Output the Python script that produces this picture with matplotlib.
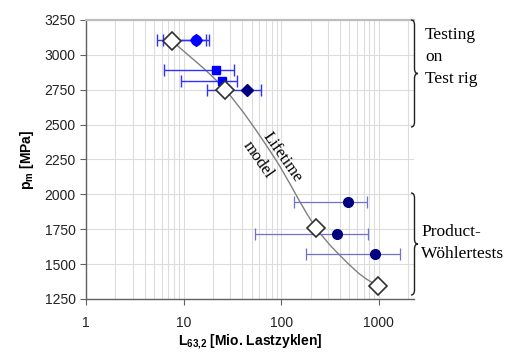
import numpy as np
import matplotlib
matplotlib.use("Agg")
import matplotlib.pyplot as plt
from matplotlib.path import Path
from matplotlib.patches import PathPatch
from matplotlib.ticker import LogLocator, FixedLocator, NullFormatter

plt.rcParams["font.family"] = ["Liberation Sans", "DejaVu Sans"]
plt.rcParams["mathtext.fontset"] = "custom"
plt.rcParams["mathtext.rm"] = "Liberation Sans"
plt.rcParams["mathtext.bf"] = "Liberation Sans:bold"

# lifetime model (open diamonds) and the curve read along it
model_x = [7.6, 26.7, 227, 990]
model_y = [3100, 2750, 1762, 1342]
curve_x = [7.6, 26.7, 83.4, 227, 574, 990]
curve_y = [3100, 2750, 2274, 1762, 1457, 1342]

# testing on test rig
rig_sq_x = [21.5, 24.6]
rig_sq_y = [2890, 2810]
rig_sq_lo = [6.3, 9.4]
rig_sq_hi = [33.2, 35.4]
rig_hex_x = [13.4]
rig_hex_y = [3110]
rig_hex_lo = [[5.3], [6.2]]
rig_hex_hi = [[18.4], [17.0]]
rig_dia_x = [44.5]
rig_dia_y = [2750]
rig_dia_lo = [17.3]
rig_dia_hi = [62.8]

# product Woehler tests
prod_x = [479, 373, 921]
prod_y = [1945, 1714, 1576]
prod_lo = [134, 54, 179]
prod_hi = [757, 774, 1663]

yticks = [1250, 1500, 1750, 2000, 2250, 2500, 2750, 3000, 3250]
xticks = [1, 10, 100, 1000]

W, H = 513, 356
fig = plt.figure(figsize=(W / 100, H / 100), dpi=100)
ax = fig.add_axes([86 / W, 1 - 299 / H, (414 - 86) / W, (299 - 20) / H])


def xerr(x, lo, hi):
    x = np.asarray(x, float)
    return [x - np.asarray(lo), np.asarray(hi) - x]


def smooth_path(xs, ys):
    # spreadsheet-style smoothed line: bezier segments through the read points
    p = np.column_stack([np.log10(xs), np.asarray(ys, float) / 1000.0])
    n = len(p)
    verts, codes = [p[0]], [Path.MOVETO]
    for i in range(n - 1):
        a, b = p[max(i - 1, 0)], p[min(i + 2, n - 1)]
        c1 = p[i] + (p[i + 1] - a) / 6
        c2 = p[i + 1] - (b - p[i]) / 6
        verts += [c1, c2, p[i + 1]]
        codes += [Path.CURVE4] * 3
    verts = np.array(verts)
    verts[:, 0] = 10 ** verts[:, 0]
    verts[:, 1] *= 1000.0
    return Path(verts, codes)


# grid
ax.set_xscale("log")
ax.set_xlim(1, 2300)
ax.set_ylim(1250, 3250)
ax.xaxis.set_major_locator(FixedLocator(xticks))
ax.xaxis.set_minor_locator(LogLocator(base=10, subs=np.arange(2, 10)))
ax.xaxis.set_minor_formatter(NullFormatter())
ax.set_xticklabels([str(v) for v in xticks])
ax.set_yticks(yticks)
ax.grid(True, which="both", axis="x", color="#dcdcdc", lw=0.8)
ax.grid(True, which="major", axis="y", color="#dcdcdc", lw=0.8)
ax.set_axisbelow(True)

ax.add_patch(PathPatch(smooth_path(curve_x, curve_y), fill=False, color="#808080",
                       lw=1.0, zorder=2))

# product tests
ax.errorbar(prod_x, prod_y, xerr=xerr(prod_x, prod_lo, prod_hi), fmt="o",
            color="#000080", ms=7, ecolor="#7070d0", elinewidth=0.9,
            capsize=4, capthick=0.9, zorder=3)

# test rig
ax.errorbar(rig_sq_x, rig_sq_y, xerr=xerr(rig_sq_x, rig_sq_lo, rig_sq_hi), fmt="s",
            color="#0000ff", ms=5.5, ecolor="#3030ff", elinewidth=1.0,
            capsize=4, capthick=1.0, zorder=3)
for lo, hi in zip(rig_hex_lo, rig_hex_hi):
    ax.errorbar(rig_hex_x, rig_hex_y, xerr=xerr(rig_hex_x, lo, hi), fmt="none",
                ecolor="#3030ff", elinewidth=1.0, capsize=4, capthick=1.0, zorder=3)
ax.plot(rig_hex_x, rig_hex_y, "D", color="#0000ff", ms=6.5, zorder=4)
ax.plot(rig_hex_x, rig_hex_y, "o", color="#0000ff", ms=7, zorder=4)
ax.errorbar(rig_dia_x, rig_dia_y, xerr=xerr(rig_dia_x, rig_dia_lo, rig_dia_hi), fmt="D",
            color="#000080", ms=6.5, ecolor="#3030ff", elinewidth=1.0,
            capsize=4, capthick=1.0, zorder=3)

# lifetime model
ax.plot(model_x, model_y, "D", ms=9, mfc="white", mec="#303030", mew=1.2, zorder=5)

# spines and ticks
for s in ("left", "bottom"):
    ax.spines[s].set_color("#606060")
    ax.spines[s].set_linewidth(1.0)
ax.spines["top"].set_color("#bdbdbd")
ax.spines["top"].set_linewidth(1.6)
ax.spines["right"].set_visible(False)
ax.tick_params(axis="both", which="major", labelsize=10, colors="#606060",
               labelcolor="#222222", length=4, direction="out")
ax.tick_params(axis="x", which="minor", length=0)
ax.tick_params(axis="x", pad=8)

ax.set_ylabel(r"$\mathbf{p_m}$ [MPa]", fontsize=10, fontweight="bold", labelpad=6)
ax.set_xlabel(r"$\mathbf{L_{63{,}2}}$ [Mio. Lastzyklen]", fontsize=10,
              fontweight="bold", labelpad=2)

serif = ["Liberation Serif", "DejaVu Serif"]
ax.text(282 / W, 1 - 157 / H, "Lifetime", transform=fig.transFigure, rotation=-55,
        ha="center", va="center", fontsize=12, family=serif, rotation_mode="anchor")
ax.text(258 / W, 1 - 160 / H, "model", transform=fig.transFigure, rotation=-55,
        ha="center", va="center", fontsize=12, family=serif, rotation_mode="anchor")


def brace(x0, yt, yb, w=7):
    ym = (yt + yb) / 2
    r = 5
    xm = x0 + w / 2
    pts = [(x0, yt), (xm, yt), (xm, yt + r), (xm, ym - r), (xm, ym), (x0 + w, ym),
           (xm, ym), (xm, ym + r), (xm, yb - r), (xm, yb), (x0, yb)]
    codes = [Path.MOVETO, Path.CURVE3, Path.CURVE3, Path.LINETO, Path.CURVE3, Path.CURVE3,
             Path.CURVE3, Path.CURVE3, Path.LINETO, Path.CURVE3, Path.CURVE3]
    verts = [(px / W, 1 - py / H) for px, py in pts]
    fig.add_artist(PathPatch(Path(verts, codes), fill=False, lw=1.0, color="#202020",
                             transform=fig.transFigure))


brace(411, 20, 127)
brace(411, 193, 295)
fig.text(425 / W, 1 - 57 / H, "Testing\non\nTest rig", ha="left", va="center",
         fontsize=12.5, family=serif, linespacing=1.5)
fig.text(421 / W, 1 - 243 / H, "Product-\nWöhlertests", ha="left", va="center",
         fontsize=12.5, family=serif, linespacing=1.5)

fig.savefig("out.png", dpi=100)
